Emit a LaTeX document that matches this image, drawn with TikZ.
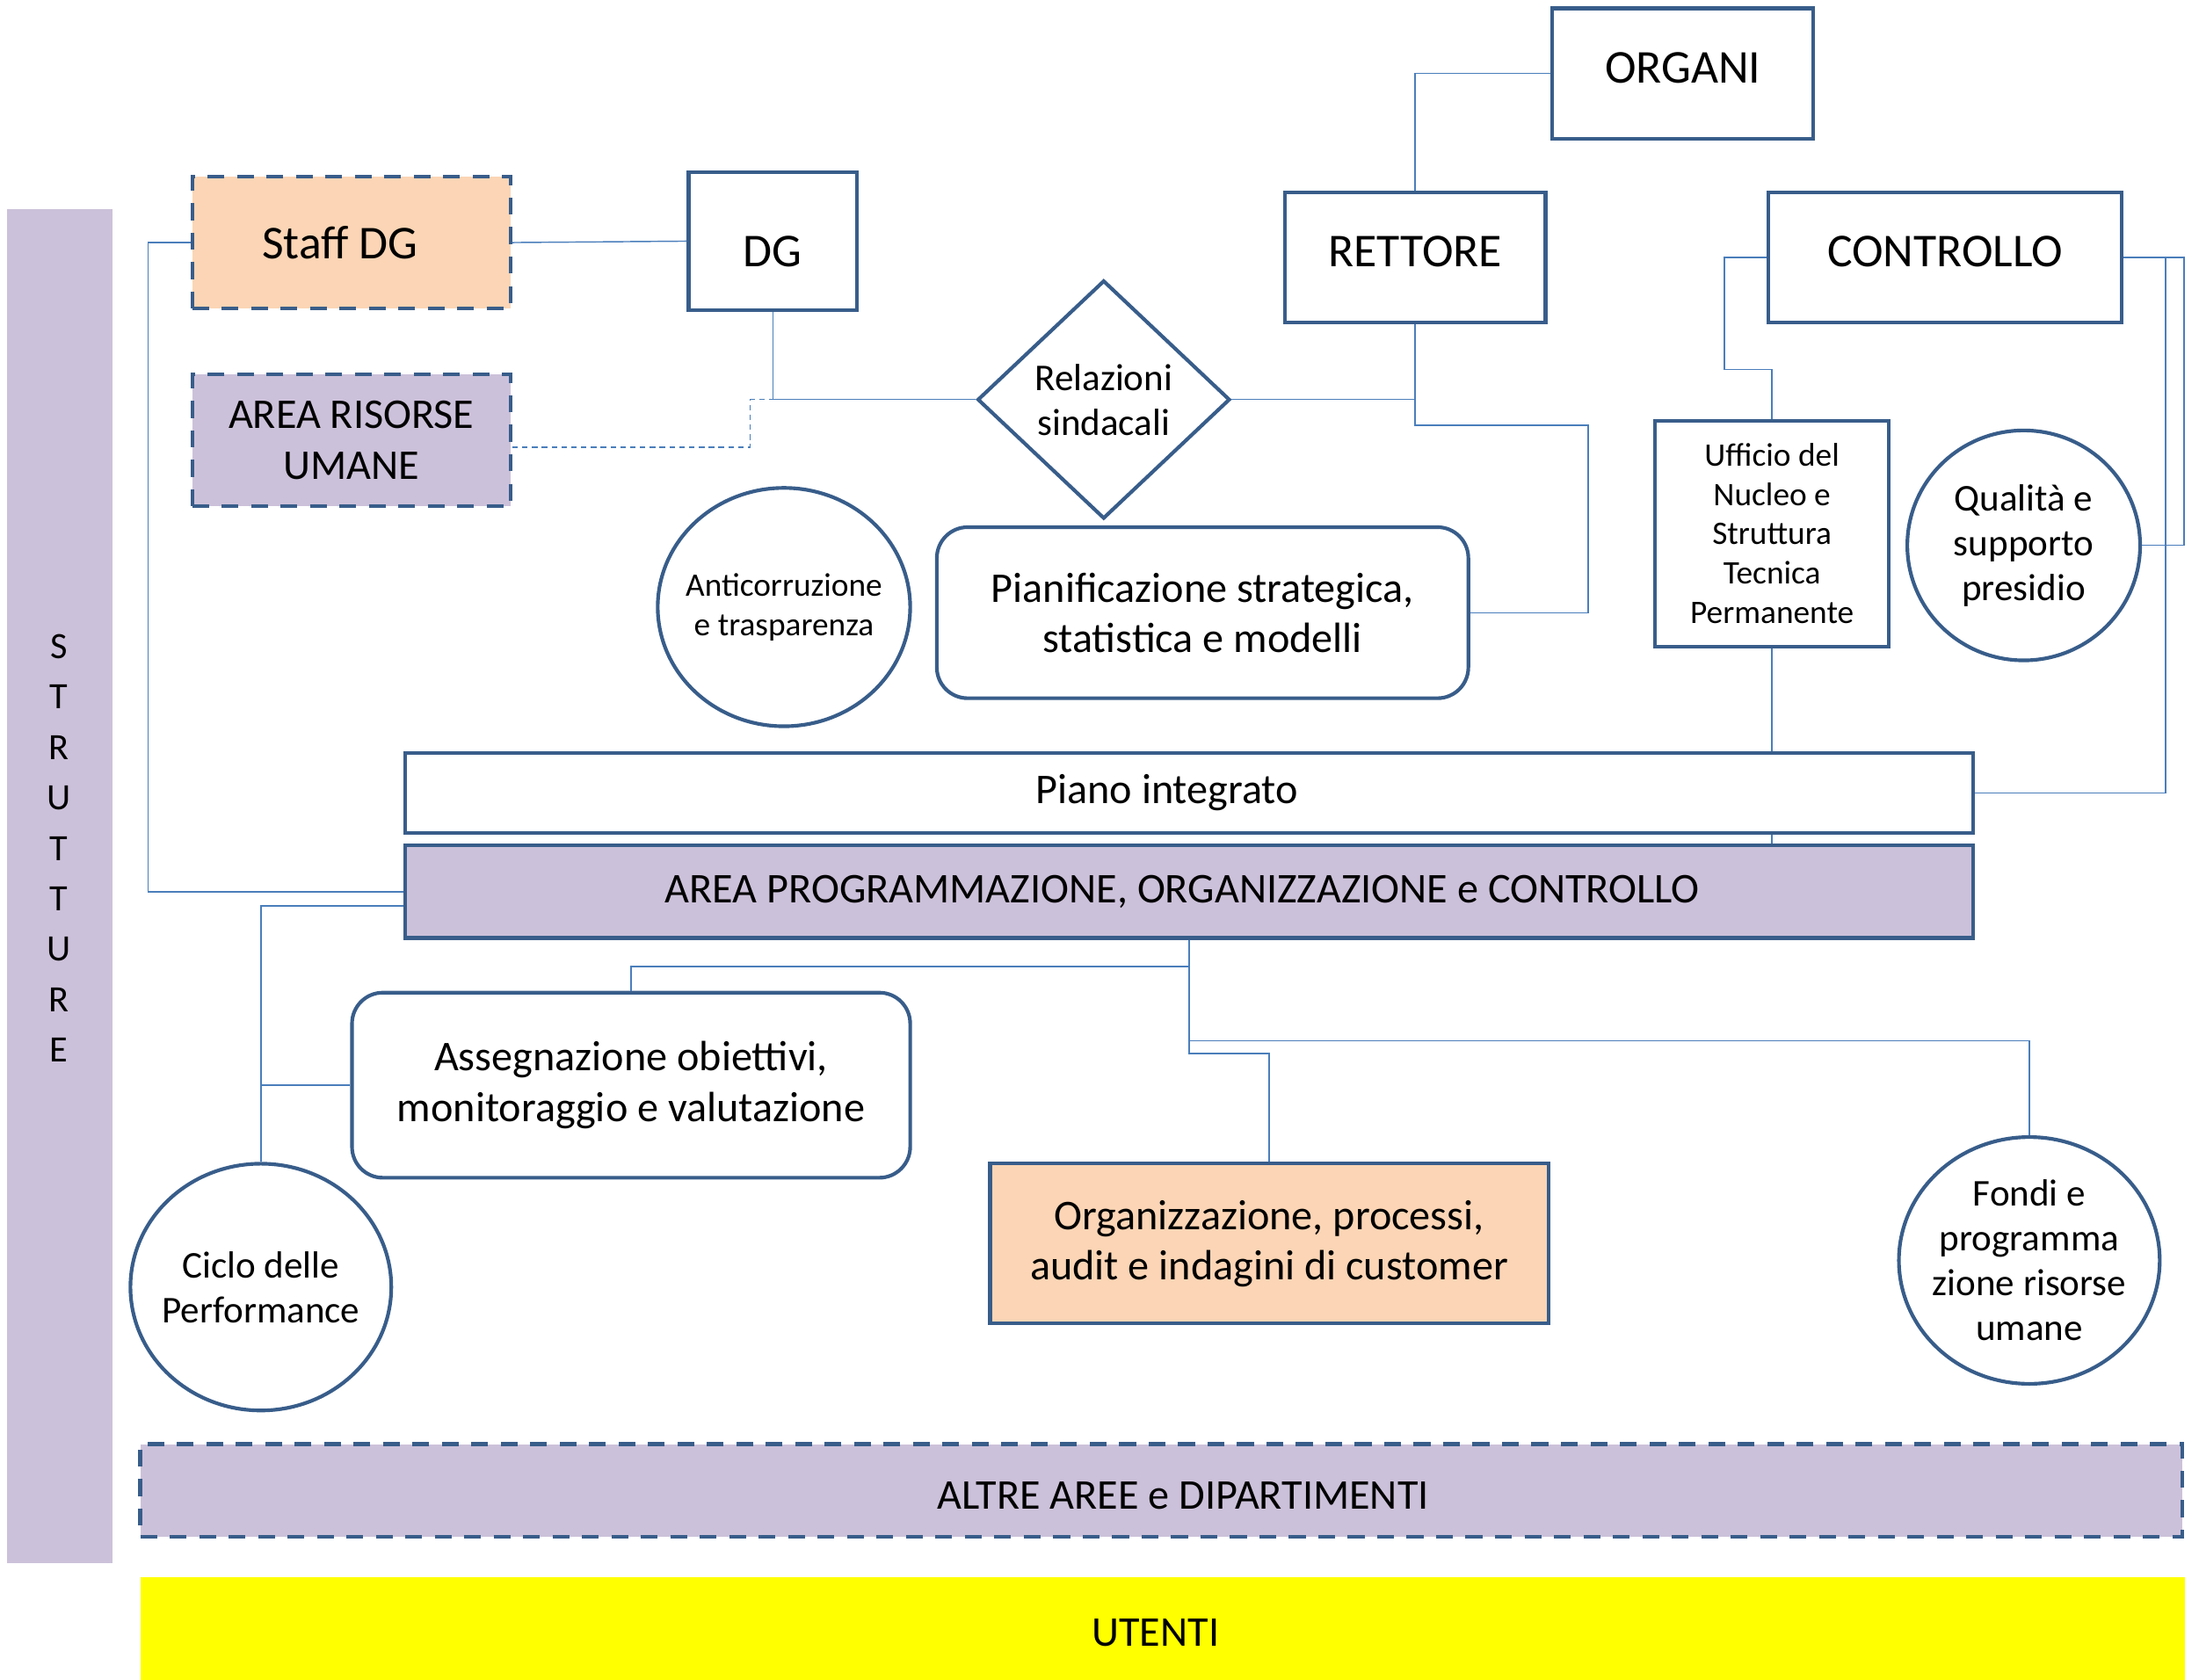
\documentclass[tikz,border=0pt]{standalone}
\usepackage{fontspec}
\setmainfont{Carlito}
\usetikzlibrary{shapes.geometric,calc}
\definecolor{bord}{RGB}{56,93,138}
\definecolor{conn}{RGB}{74,126,187}
\definecolor{lav}{RGB}{204,193,218}
\definecolor{peach}{RGB}{251,213,181}
\definecolor{ylw}{RGB}{255,255,0}
\newcommand\fbig{\fontsize{33.6}{40}\selectfont}
\newcommand\fmid{\fontsize{30.2}{36}\selectfont}
\newcommand\fsml{\fontsize{27}{32}\selectfont}
\newcommand\ftny{\fontsize{23.4}{28}\selectfont}
\begin{document}
\begin{tikzpicture}[x=1pt,y=-1pt,
  box/.style={draw=bord,line width=2.6pt,inner sep=0pt,align=center},
  dbox/.style={box,dash pattern=on 12pt off 9pt},
  rbox/.style={box,rounded corners=22pt},
  circ/.style={box,ellipse,inner xsep=-10pt},
  link/.style={draw=conn,line width=0.9pt},
  dlink/.style={link,dash pattern=on 4pt off 3pt}]
\useasboundingbox (0,0) rectangle (1568,1198);
% side bar
\node[fill=lav,minimum width=75pt,minimum height=966pt,inner sep=0pt] (strut) at (42.5,632) {};
\node[align=center,font=\fontsize{26.5}{36}\selectfont] (strutt) at (42,605) {S\\T\\R\\U\\T\\T\\U\\R\\E};
% top
\node[dbox,fill=peach,minimum width=227pt,minimum height=94pt,font=\fbig] (staff) at (250.5,173) {Staff DG\hspace*{16pt}};
\node[dbox,fill=lav,minimum width=227pt,minimum height=94pt,font=\fmid] (arisu) at (250.5,314) {AREA RISORSE\\UMANE};
\node[box,minimum width=120pt,minimum height=98pt,font=\fbig,text height=37pt,text depth=0pt] (dg) at (551,172) {DG};
\node[box,minimum width=186pt,minimum height=93pt,font=\fbig,text height=21pt,text depth=8pt] (organi) at (1200,52.5) {ORGANI};
\node[box,minimum width=186pt,minimum height=93pt,font=\fbig,text height=21pt,text depth=7pt] (rettore) at (1009,183.5) {RETTORE};
\node[box,minimum width=252pt,minimum height=93pt,font=\fbig,text height=21pt,text depth=7pt] (controllo) at (1387,183.5) {CONTROLLO};
\node[box,diamond,fill=white,minimum width=180pt,minimum height=170pt,font=\fsml] (relaz) at (787,285) {Relazioni\\sindacali};
\node[circ,minimum width=180pt,minimum height=170pt,font=\ftny] (anti) at (559,433) {Anticorruzione\\e trasparenza};
\node[rbox,minimum width=379pt,minimum height=122pt,font=\fmid] (pianif) at (857.5,437) {Pianificazione strategica,\\statistica e modelli};
\node[box,minimum width=167pt,minimum height=161pt,font=\ftny] (uff) at (1263.5,380.5) {Ufficio del\\Nucleo e\\Struttura\\Tecnica\\Permanente};
\node[circ,minimum width=166pt,minimum height=164pt,font=\fsml] (qual) at (1443,389) {Qualità e\\supporto\\presidio};
% middle
\node[box,minimum width=1118pt,minimum height=57pt,font=\fmid] (piano) at (848,565.5) {Piano integrato\hspace*{32pt}};
\node[box,fill=lav,minimum width=1118pt,minimum height=66pt,font=\fmid] (apoc) at (848,636) {AREA PROGRAMMAZIONE, ORGANIZZAZIONE e CONTROLLO\hspace*{10pt}};
\node[rbox,minimum width=398pt,minimum height=132pt,font=\fmid] (asseg) at (450,774) {Assegnazione obiettivi,\\monitoraggio e valutazione};
\node[circ,minimum width=186pt,minimum height=176pt,font=\fsml] (ciclo) at (186,918) {Ciclo delle\\Performance};
\node[box,fill=peach,minimum width=398pt,minimum height=114pt,font=\fmid] (organiz) at (905,887) {Organizzazione, processi,\\audit e indagini di customer};
\node[circ,minimum width=186pt,minimum height=176pt,font=\fsml] (fondi) at (1447,899) {Fondi e\\programma\\zione risorse\\umane};
% bottom
\node[dbox,fill=lav,minimum width=1456pt,minimum height=66pt,font=\fmid,text height=27pt,text depth=0pt] (altre) at (828,1063) {\hspace*{31pt}ALTRE AREE e DIPARTIMENTI};
\node[fill=ylw,minimum width=1458pt,minimum height=73pt,inner sep=0pt,font=\fmid,text height=25pt,text depth=0pt] (utenti) at (829,1161.5) {UTENTI\hspace*{10pt}};
% connectors
\draw[link] (staff.east) -- (dg.west);
\draw[link] (staff.west) -- ++(-30,0) |- (apoc.west);
\draw[link] (dg.south) |- (relaz.west);
\draw[dlink] ([yshift=-5pt]arisu.east) -| ([xshift=-16pt]dg.south |- relaz.west) -- (dg.south |- relaz.west);
\draw[link] (relaz.east) -| (rettore.south);
\draw[link] (rettore.south) -- ++(0,72) -| ([xshift=84pt]pianif.east) -- (pianif.east);
\draw[link] (organi.west) -| (rettore.north);
\draw[link] (controllo.west) -- ++(-30,0) |- ([yshift=35pt]uff.north) -- (uff.north);
\draw[link] (uff.south) -- (uff.south |- piano.north);
\draw[link] (uff.south |- piano.south) -- (uff.south |- apoc.north);
\draw[link] (controllo.east) -- ++(43,0) |- (qual.east);
\draw[link] (controllo.east) -- ++(30,0) |- (piano.east);
\draw[link] (apoc.south) -- ++(0,19) -| (asseg.north);
\draw[link] (apoc.south) -- ++(0,72) -| (fondi.north);
\draw[link] (apoc.south) -- ++(0,81) -| (organiz.north);
\draw[link] ([yshift=-10pt]apoc.west) -| (ciclo.north);
\draw[link] (asseg.west) -- (asseg.west -| ciclo.north);
\end{tikzpicture}
\end{document}
